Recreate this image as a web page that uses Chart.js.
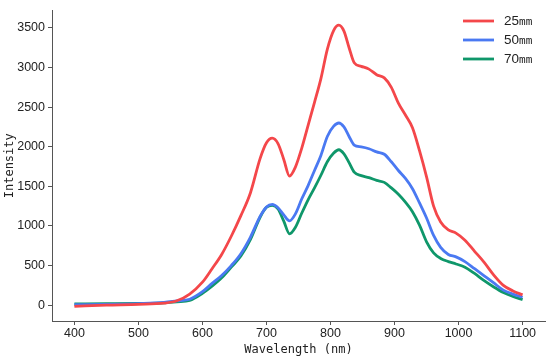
<!DOCTYPE html>
<html>
<head>
<meta charset="utf-8">
<script src="https://cdn.jsdelivr.net/npm/chart.js@4.4.0/dist/chart.umd.min.js"></script>
<style>
html,body{margin:0;padding:0;background:#fff;}
#wrap{width:550px;height:358px;position:relative;}
</style>
</head>
<body>
<div id="wrap"><canvas id="c" width="550" height="358"></canvas></div>
<script>
const wavelengths = [400,450,500,540,560,580,600,615,630,645,660,675,690,700,709,718,727,736,745,755,765,775,785,795,805,813,821,829,837,848,860,872,884,895,906,917,928,939,950,961,972,984,996,1010,1025,1040,1055,1070,1085,1100];
const series25 = [-15,0,10,25,55,140,290,460,640,870,1130,1420,1850,2050,2108,2040,1840,1630,1740,1980,2270,2560,2860,3230,3470,3535,3460,3250,3060,3015,2980,2910,2870,2750,2550,2400,2240,1950,1620,1250,1050,950,910,820,680,540,380,250,180,130];
const series50 = [5,10,20,35,55,75,170,275,375,500,650,860,1120,1240,1272,1230,1140,1065,1150,1340,1510,1700,1890,2130,2260,2300,2250,2130,2020,1998,1975,1935,1905,1810,1700,1600,1470,1290,1100,880,730,640,610,550,460,370,280,190,140,100];
const series70 = [15,18,22,30,42,60,150,240,345,480,620,830,1110,1235,1260,1215,1060,900,980,1160,1330,1480,1640,1810,1920,1962,1910,1800,1680,1635,1610,1575,1550,1480,1400,1300,1180,1010,800,660,590,550,520,480,400,310,230,160,110,70];
const seriesLabels = ['25mm','50mm','70mm'];
const xTicks = [400,500,600,700,800,900,1000,1100];
const yTicks = [0,500,1000,1500,2000,2500,3000,3500];

const colors = ['#F4474A','#4A79F2','#0F976A'];
const seriesValues = [series25, series50, series70];

const datasets = seriesValues.map((vals,i)=>({
  label: seriesLabels[i],
  data: wavelengths.map((w,j)=>({x:w,y:vals[j]})),
  borderColor: colors[i],
  backgroundColor: colors[i],
  borderWidth: 2.8,
  pointRadius: 0,
  cubicInterpolationMode: 'monotone',
  fill: false
}));

const legendPlugin = {
  id:'customLegend',
  afterDraw(chart){
    const ctx = chart.ctx;
    ctx.save();
    chart.data.datasets.forEach((ds,i)=>{
      const y = 21 + i*19;
      ctx.strokeStyle = ds.borderColor;
      ctx.lineWidth = 2.8;
      ctx.beginPath();
      ctx.moveTo(463,y);
      ctx.lineTo(494,y);
      ctx.stroke();
      const m = ds.label.match(/^(\d+)(.*)$/);
      ctx.fillStyle = '#222';
      ctx.textBaseline = 'middle';
      ctx.textAlign = 'left';
      ctx.font = '13.5px "Liberation Sans", Arial, sans-serif';
      ctx.fillText(m[1], 504, y);
      const w = ctx.measureText(m[1]).width;
      ctx.font = '11px "DejaVu Sans Mono", monospace';
      ctx.fillText(m[2], 504+w, y+1);
    });
    ctx.restore();
  }
};

new Chart(document.getElementById('c'), {
  type:'line',
  data:{datasets},
  options:{
    responsive:false,
    animation:false,
    devicePixelRatio:1,
    layout:{padding:{top:3,right:5,left:0,bottom:0}},
    plugins:{legend:{display:false},tooltip:{enabled:false}},
    scales:{
      x:{
        type:'linear',
        min:365,max:1135,
        afterBuildTicks(s){ s.ticks = xTicks.map(v=>({value:v})); },
        afterFit(s){ s.height = 37; },
        grid:{display:true,drawOnChartArea:false,drawTicks:true,tickLength:4,color:'#555'},
        border:{display:true,color:'#555',width:1},
        ticks:{padding:1,color:'#222',font:{family:'"Liberation Sans", Arial, sans-serif',size:12.5},maxRotation:0,callback:v=>String(v)},
        title:{display:true,text:'Wavelength (nm)',color:'#222',font:{family:'"DejaVu Sans Mono", monospace',size:12},padding:{top:0,bottom:1}}
      },
      y:{
        type:'linear',
        min:-200,max:3720,
        afterBuildTicks(s){ s.ticks = yTicks.map(v=>({value:v})); },
        afterFit(s){ s.width = 52; },
        grid:{display:true,drawOnChartArea:false,drawTicks:true,tickLength:4,color:'#555'},
        border:{display:true,color:'#555',width:1},
        ticks:{padding:3,color:'#222',font:{family:'"Liberation Sans", Arial, sans-serif',size:12.5},callback:v=>String(v)},
        title:{display:true,text:'Intensity',color:'#222',font:{family:'"DejaVu Sans Mono", monospace',size:12},padding:{top:3,bottom:0}}
      }
    }
  },
  plugins:[legendPlugin]
});
</script>
</body>
</html>
